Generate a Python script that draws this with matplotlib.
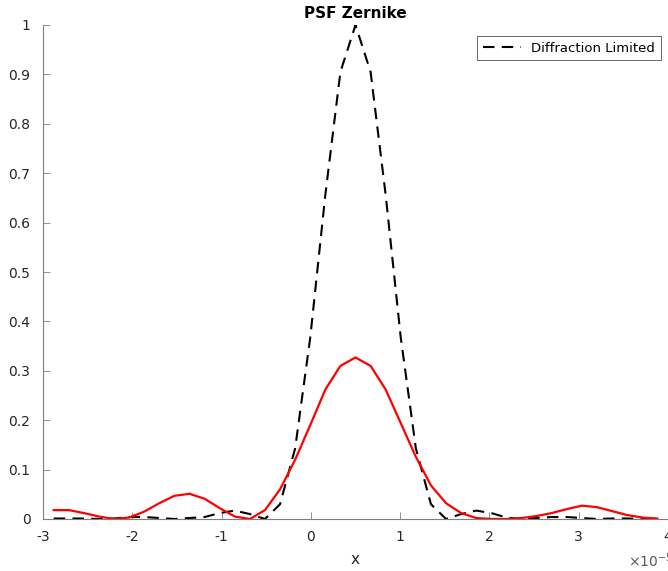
import numpy as np
import matplotlib
matplotlib.use("Agg")
import matplotlib.pyplot as plt
from matplotlib.ticker import FixedLocator

# Sample positions (metres)
x_pos = np.array([
    -2.880, -2.711, -2.542, -2.373, -2.204, -2.035, -1.866, -1.697, -1.528, -1.359,
    -1.190, -1.021, -0.852, -0.683, -0.514, -0.345, -0.176, -0.007, 0.162, 0.331,
    0.500, 0.669, 0.838, 1.007, 1.176, 1.345, 1.514, 1.683, 1.852, 2.021,
    2.190, 2.359, 2.528, 2.697, 2.866, 3.035, 3.204, 3.373, 3.542, 3.711, 3.880,
]) * 1e-5

# Aberrated PSF (Zernike)
psf_zernike = np.array([
    0.018, 0.018, 0.012, 0.005, 0.000, 0.003, 0.015, 0.032, 0.047, 0.051,
    0.041, 0.022, 0.005, 0.000, 0.018, 0.060, 0.120, 0.190, 0.262, 0.310,
    0.327, 0.310, 0.262, 0.194, 0.126, 0.068, 0.032, 0.012, 0.002, 0.000,
    0.000, 0.002, 0.006, 0.012, 0.020, 0.027, 0.024, 0.016, 0.008, 0.003, 0.001,
])

# Diffraction-limited PSF
psf_diffraction = np.array([
    0.001, 0.001, 0.001, 0.000, 0.001, 0.004, 0.004, 0.002, 0.000, 0.002,
    0.004, 0.012, 0.017, 0.010, 0.000, 0.030, 0.143, 0.367, 0.656, 0.905,
    1.000, 0.905, 0.656, 0.367, 0.143, 0.030, 0.000, 0.010, 0.017, 0.012,
    0.003, 0.000, 0.002, 0.004, 0.004, 0.002, 0.000, 0.001, 0.001, 0.000, 0.001,
])

x_ticks = [-3, -2, -1, 0, 1, 2, 3, 4]
y_ticks = [0, 0.1, 0.2, 0.3, 0.4, 0.5, 0.6, 0.7, 0.8, 0.9, 1]
y_tick_labels = ["0", "0.1", "0.2", "0.3", "0.4", "0.5", "0.6", "0.7", "0.8", "0.9", "1"]

plt.rcParams["font.family"] = ["DejaVu Sans"]
axis_grey = "#262626"

fig = plt.figure(figsize=(6.68, 5.71), dpi=100)
ax = fig.add_axes([43 / 668, 52 / 571, 625 / 668, 494 / 571])

ax.plot(x_pos / 1e-5, psf_diffraction, color="black", lw=1.5,
        ls=(0, (5.5, 3.5)), label="Diffraction Limited")
ax.plot(x_pos / 1e-5, psf_zernike, color="#ff0000", lw=1.6, label="_nolegend_")

ax.set_xlim(-3, 4)
ax.set_ylim(0, 1)
ax.xaxis.set_major_locator(FixedLocator(x_ticks))
ax.set_xticklabels([str(t) for t in x_ticks])
ax.yaxis.set_major_locator(FixedLocator(y_ticks))
ax.set_yticklabels(y_tick_labels)

for side in ("top", "right"):
    ax.spines[side].set_visible(False)
for side in ("left", "bottom"):
    ax.spines[side].set_color("#7f7f7f")
    ax.spines[side].set_linewidth(0.8)

ax.tick_params(direction="in", length=5, width=0.6, color="#7f7f7f",
               labelsize=10, labelcolor=axis_grey)
ax.tick_params(axis="x", pad=8)
ax.tick_params(axis="y", pad=9)

ax.set_xlabel("x", fontsize=11, color=axis_grey, labelpad=6)
ax.set_title("PSF Zernike", fontsize=11, fontweight="bold", pad=5)

# Exponent of the x axis, below the right end of the axis
ax.text(1.008, -0.085, r"$\times10^{-5}$", transform=ax.transAxes, ha="right",
        va="center", fontsize=10, color="#5a5a5a", clip_on=False)

leg = ax.legend(loc="upper right", bbox_to_anchor=(0.988, 0.977), fontsize=9.5,
                frameon=True, fancybox=False, handlelength=2.9, borderpad=0.4,
                handletextpad=0.8, borderaxespad=0.0)
leg.get_frame().set_edgecolor("#262626")
leg.get_frame().set_linewidth(0.6)

fig.savefig("out.png", dpi=100)
